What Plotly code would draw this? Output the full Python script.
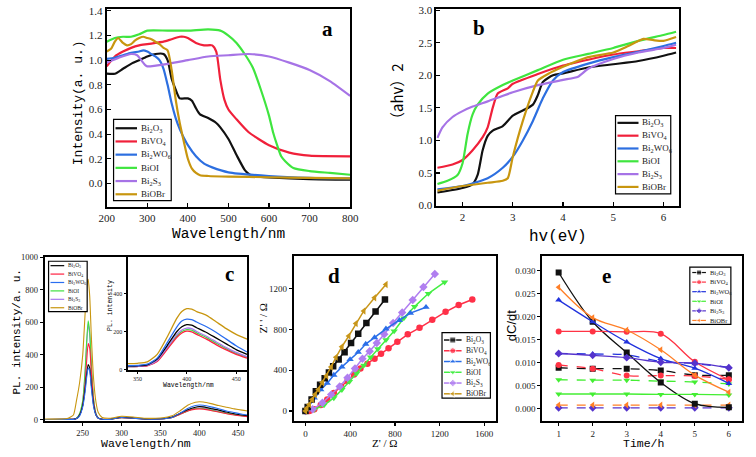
import plotly.graph_objects as go

W, H = 756, 457

names = ["Bi<sub>2</sub>O<sub>3</sub>", "BiVO<sub>4</sub>", "Bi<sub>2</sub>WO<sub>6</sub>",
         "BiOI", "Bi<sub>2</sub>S<sub>3</sub>", "BiOBr"]
col_ab = ["#111111", "#f0203a", "#2d6fe0", "#3fe53f", "#a673e6", "#c8960f"]
col_c = ["#000000", "#ff2040", "#2a6ef0", "#40e040", "#a878ee", "#c8960f"]
col_d = ["#111111", "#ff3048", "#2a6ee8", "#44ee44", "#b07ef0", "#c8961a"]
col_e = ["#111111", "#ff3344", "#2233dd", "#44ee33", "#5533cc", "#ff7f27"]
sym = ["square", "circle", "triangle-up", "triangle-down", "diamond", "triangle-left"]

# ---------------- panel a : UV-vis (wavelength, intensity) ----------------
a_x_Bi2O3 = [200, 220, 240, 260, 280, 300, 320, 340, 350, 360, 370, 380, 400, 410, 420, 430, 450, 470, 480, 500, 520, 540, 550, 560, 580, 600, 700, 800]
a_y_Bi2O3 = [0.89, 0.89, 0.93, 0.97, 1.0, 1.03, 1.05, 1.05, 1.0, 0.85, 0.76, 0.69, 0.69, 0.67, 0.61, 0.56, 0.53, 0.49, 0.455, 0.36, 0.23, 0.11, 0.077, 0.06, 0.052, 0.048, 0.035, 0.03]
a_x_BiVO4 = [200, 220, 240, 260, 280, 300, 320, 340, 360, 380, 390, 400, 420, 440, 460, 470, 480, 490, 500, 520, 550, 600, 650, 700, 800]
a_y_BiVO4 = [0.95, 1.03, 1.07, 1.1, 1.12, 1.13, 1.14, 1.15, 1.17, 1.19, 1.19, 1.18, 1.14, 1.12, 1.12, 1.07, 0.84, 0.68, 0.6, 0.52, 0.415, 0.31, 0.25, 0.225, 0.22]
a_x_Bi2WO6 = [200, 220, 240, 260, 280, 290, 300, 310, 320, 330, 340, 350, 360, 370, 380, 390, 400, 420, 440, 460, 500, 600, 700, 800]
a_y_Bi2WO6 = [1.01, 1.02, 1.04, 1.06, 1.07, 1.08, 1.07, 1.05, 1.03, 1.0, 0.93, 0.8, 0.65, 0.53, 0.44, 0.37, 0.31, 0.22, 0.16, 0.13, 0.09, 0.06, 0.045, 0.04]
a_x_BiOI = [200, 220, 240, 260, 280, 300, 350, 400, 450, 480, 500, 520, 540, 560, 580, 600, 610, 620, 630, 640, 660, 700, 750, 800]
a_y_BiOI = [1.15, 1.18, 1.19, 1.19, 1.21, 1.24, 1.24, 1.24, 1.25, 1.24, 1.2, 1.14, 1.05, 0.94, 0.76, 0.55, 0.415, 0.31, 0.22, 0.18, 0.125, 0.1, 0.085, 0.07]
a_x_Bi2S3 = [200, 230, 260, 275, 285, 295, 300, 350, 400, 450, 500, 550, 600, 650, 700, 750, 800]
a_y_Bi2S3 = [0.98, 1.02, 1.05, 1.04, 1.0, 0.96, 0.95, 0.97, 1.0, 1.03, 1.04, 1.05, 1.03, 0.98, 0.92, 0.83, 0.71]
a_x_BiOBr = [200, 210, 220, 228, 240, 250, 260, 270, 280, 290, 300, 310, 320, 330, 340, 350, 360, 370, 380, 390, 400, 410, 420, 430, 450, 500, 600, 700, 800]
a_y_BiOBr = [1.07, 1.09, 1.15, 1.18, 1.14, 1.12, 1.13, 1.16, 1.18, 1.19, 1.18, 1.17, 1.15, 1.13, 1.1, 1.08, 0.92, 0.68, 0.49, 0.34, 0.2, 0.12, 0.085, 0.066, 0.06, 0.055, 0.05, 0.045, 0.04]

# ---------------- panel b : Tauc (hv, (ahv)^2) ----------------
b_x_Bi2O3 = [1.5, 2.0, 2.2, 2.3, 2.4, 2.5, 2.6, 2.8, 3.0, 3.2, 3.4, 3.5, 3.6, 3.8, 4.0, 4.5, 5.0, 5.5, 6.0, 6.25]
b_y_Bi2O3 = [0.2, 0.27, 0.33, 0.47, 0.85, 1.07, 1.15, 1.22, 1.38, 1.46, 1.55, 1.7, 1.9, 2.0, 2.03, 2.12, 2.17, 2.22, 2.3, 2.35]
b_x_BiVO4 = [1.5, 1.8, 2.0, 2.2, 2.4, 2.5, 2.6, 2.7, 2.9, 3.0, 3.5, 4.0, 4.5, 5.0, 5.5, 6.0, 6.25]
b_y_BiVO4 = [0.58, 0.63, 0.7, 0.85, 1.05, 1.2, 1.5, 1.72, 1.8, 1.87, 2.02, 2.15, 2.24, 2.32, 2.37, 2.42, 2.42]
b_x_Bi2WO6 = [1.5, 2.0, 2.5, 2.8, 3.0, 3.2, 3.4, 3.6, 3.8, 4.0, 4.5, 5.0, 5.5, 6.0, 6.25]
b_y_Bi2WO6 = [0.25, 0.3, 0.42, 0.58, 0.75, 1.0, 1.3, 1.65, 1.92, 2.05, 2.18, 2.28, 2.36, 2.45, 2.5]
b_x_BiOI = [1.5, 1.7, 1.9, 2.0, 2.1, 2.2, 2.3, 2.5, 2.8, 3.0, 3.5, 4.0, 4.5, 5.0, 5.5, 6.0, 6.25]
b_y_BiOI = [0.33, 0.38, 0.47, 0.65, 1.1, 1.4, 1.55, 1.72, 1.85, 1.92, 2.08, 2.24, 2.33, 2.42, 2.53, 2.62, 2.67]
b_x_Bi2S3 = [1.5, 1.6, 1.8, 2.0, 2.2, 2.5, 3.0, 3.5, 4.0, 4.3, 4.5, 5.0, 5.5, 6.0, 6.25]
b_y_Bi2S3 = [1.04, 1.2, 1.36, 1.45, 1.52, 1.6, 1.74, 1.85, 1.93, 1.98, 2.1, 2.25, 2.35, 2.42, 2.47]
b_x_BiOBr = [1.5, 2.0, 2.5, 2.8, 2.9, 3.0, 3.2, 3.4, 3.5, 3.7, 4.0, 4.5, 5.0, 5.3, 5.6, 5.8, 6.0, 6.25]
b_y_BiOBr = [0.23, 0.3, 0.35, 0.38, 0.42, 0.75, 1.3, 1.75, 1.92, 2.02, 2.13, 2.28, 2.35, 2.45, 2.56, 2.54, 2.53, 2.59]

# ---------------- panel c : PL spectra ----------------
c_wl = [201, 230, 238, 242, 246, 250, 253, 255, 257, 259, 261, 264, 267, 270, 275, 285, 300, 315, 330, 350, 365, 375, 385, 395, 400, 405, 415, 425, 435, 445, 455, 462]
c_Bi2O3 = [2, 3, 4, 8, 30, 90, 190, 280, 340, 320, 220, 90, 30, 10, 4, 4, 16, 12, 6, 7, 18, 40, 62, 78, 82, 80, 70, 60, 48, 38, 30, 26]
c_BiVO4 = [2, 3, 4, 8, 30, 90, 220, 360, 470, 440, 300, 110, 35, 10, 4, 4, 14, 10, 5, 6, 15, 34, 55, 66, 68, 66, 58, 48, 38, 30, 24, 20]
c_Bi2WO6 = [2, 3, 3, 8, 25, 80, 170, 260, 320, 300, 200, 80, 30, 10, 4, 3, 15, 10, 5, 6, 15, 40, 70, 88, 92, 90, 80, 68, 55, 45, 35, 30]
c_BiOI = [2, 3, 4, 10, 40, 120, 300, 480, 610, 540, 350, 130, 40, 12, 4, 4, 14, 10, 5, 6, 15, 34, 55, 70, 72, 70, 60, 50, 40, 32, 25, 21]
c_Bi2S3 = [2, 3, 4, 10, 35, 110, 280, 460, 590, 520, 330, 120, 38, 12, 4, 4, 14, 10, 5, 6, 15, 35, 57, 72, 75, 73, 62, 52, 42, 33, 26, 22]
c_BiOBr = [5, 8, 30, 120, 230, 400, 650, 820, 865, 760, 520, 250, 110, 45, 15, 10, 22, 18, 10, 12, 25, 55, 90, 108, 112, 110, 100, 88, 78, 68, 60, 55]

ci_wl = [340, 350, 360, 370, 380, 390, 395, 400, 405, 410, 420, 430, 440, 450, 461]
ci_Bi2O3 = [18, 20, 25, 55, 125, 200, 225, 236, 233, 220, 195, 165, 135, 105, 80]
ci_BiVO4 = [15, 16, 20, 42, 105, 170, 192, 202, 198, 185, 160, 130, 103, 80, 60]
ci_Bi2WO6 = [20, 22, 28, 60, 140, 225, 255, 265, 262, 250, 225, 195, 160, 125, 92]
ci_BiOI = [15, 17, 22, 45, 110, 178, 200, 210, 207, 193, 168, 138, 110, 85, 65]
ci_Bi2S3 = [15, 17, 22, 48, 115, 185, 208, 218, 215, 200, 175, 145, 115, 90, 68]
ci_BiOBr = [31, 33, 40, 80, 170, 270, 305, 320, 318, 305, 285, 250, 215, 185, 160]

# ---------------- panel d : Nyquist (Z', Z'') ----------------
d_re_Bi2O3 = [0, 20, 55, 93, 131, 172, 210, 248, 297, 350, 408, 472, 545, 627, 711]
d_im_Bi2O3 = [0, 38, 112, 192, 256, 320, 378, 438, 506, 576, 666, 758, 864, 976, 1094]
d_re_BiVO4 = [35, 79, 137, 195, 254, 318, 376, 434, 492, 554, 618, 676, 743, 822, 915, 1020, 1134, 1253, 1370, 1492]
d_im_BiVO4 = [0, 16, 58, 112, 176, 240, 294, 358, 416, 464, 512, 560, 614, 678, 752, 816, 896, 973, 1040, 1094]
d_re_Bi2WO6 = [0, 20, 79, 137, 195, 254, 326, 399, 472, 539, 618, 720, 840, 938, 1078]
d_im_Bi2WO6 = [0, 32, 128, 208, 272, 352, 432, 506, 576, 656, 720, 806, 890, 960, 1018]
d_re_BiOI = [0, 79, 166, 254, 326, 393, 458, 522, 583, 647, 720, 793, 880, 976, 1099, 1244]
d_im_BiOI = [0, 13, 58, 128, 208, 288, 368, 448, 528, 608, 698, 784, 912, 1024, 1152, 1264]
d_re_Bi2S3 = [0, 64, 152, 230, 306, 376, 443, 510, 574, 638, 705, 784, 865, 959, 1055, 1157]
d_im_Bi2S3 = [0, 16, 80, 160, 240, 326, 416, 512, 586, 666, 752, 864, 966, 1088, 1216, 1344]
d_re_BiOBr = [0, 12, 35, 61, 87, 117, 152, 189, 230, 274, 326, 388, 452, 522, 618, 720]
d_im_BiOBr = [0, 26, 64, 112, 160, 211, 278, 346, 432, 528, 630, 736, 858, 982, 1110, 1242]

# ---------------- panel e : dC/dt vs time ----------------
e_t = [1, 2, 3, 4, 5, 6]
e_solid = {
    "Bi2O3": [0.0296, 0.0189, 0.0122, 0.0057, 0.0011, 0.0003],
    "BiVO4": [0.0168, 0.0168, 0.0167, 0.0163, 0.0102, 0.0063],
    "Bi2WO6": [0.0236, 0.0189, 0.0145, 0.0109, 0.0088, 0.0055],
    "BiOI": [0.0032, 0.0032, 0.0032, 0.0031, 0.0031, 0.0030],
    "Bi2S3": [0.0120, 0.0116, 0.0111, 0.0101, 0.0099, 0.0089],
    "BiOBr": [0.0264, 0.0198, 0.0171, 0.0128, 0.0073, 0.0036],
}
e_dash = {
    "Bi2O3": [0.0089, 0.0087, 0.0087, 0.0083, 0.0073, 0.0073],
    "BiVO4": [0.0095, 0.0087, 0.0072, 0.0072, 0.0071, 0.0064],
    "Bi2WO6": [0.0120, 0.0119, 0.0117, 0.0103, 0.0098, 0.0090],
    "BiOI": [0.0063, 0.0062, 0.0062, 0.0060, 0.0058, 0.0054],
    "Bi2S3": [0.0002, 0.0002, 0.0002, 0.0002, 0.0002, 0.0002],
    "BiOBr": [0.0008, 0.0008, 0.0008, 0.0008, 0.0008, 0.0008],
}
keys = ["Bi2O3", "BiVO4", "Bi2WO6", "BiOI", "Bi2S3", "BiOBr"]

# ======================================================================
def xd(l, r):
    return [l / W, r / W]


def yd(t, b):
    return [1 - b / H, 1 - t / H]


fig = go.Figure()

a_data = [(a_x_Bi2O3, a_y_Bi2O3), (a_x_BiVO4, a_y_BiVO4), (a_x_Bi2WO6, a_y_Bi2WO6),
          (a_x_BiOI, a_y_BiOI), (a_x_Bi2S3, a_y_Bi2S3), (a_x_BiOBr, a_y_BiOBr)]
for i, (xx, yy) in enumerate(a_data):
    fig.add_trace(go.Scatter(x=xx, y=yy, mode="lines", line=dict(color=col_ab[i], width=2.2, shape="spline", smoothing=0.6),
                             xaxis="x", yaxis="y", showlegend=False, hoverinfo="skip"))

b_data = [(b_x_Bi2O3, b_y_Bi2O3), (b_x_BiVO4, b_y_BiVO4), (b_x_Bi2WO6, b_y_Bi2WO6),
          (b_x_BiOI, b_y_BiOI), (b_x_Bi2S3, b_y_Bi2S3), (b_x_BiOBr, b_y_BiOBr)]
for i, (xx, yy) in enumerate(b_data):
    fig.add_trace(go.Scatter(x=xx, y=yy, mode="lines", line=dict(color=col_ab[i], width=2.2, shape="spline", smoothing=0.6),
                             xaxis="x2", yaxis="y2", showlegend=False, hoverinfo="skip"))

c_main = [c_Bi2O3, c_BiVO4, c_Bi2WO6, c_BiOI, c_Bi2S3, c_BiOBr]
for i in [4, 3, 1, 0, 2, 5]:
    fig.add_trace(go.Scatter(x=c_wl, y=c_main[i], mode="lines", line=dict(color=col_c[i], width=1.1, shape="spline", smoothing=0.5),
                             xaxis="x3", yaxis="y3", showlegend=False, hoverinfo="skip"))
c_ins = [ci_Bi2O3, ci_BiVO4, ci_Bi2WO6, ci_BiOI, ci_Bi2S3, ci_BiOBr]
for i in [3, 1, 4, 0, 2, 5]:
    fig.add_trace(go.Scatter(x=ci_wl, y=c_ins[i], mode="lines", line=dict(color=col_c[i], width=1.3, shape="spline", smoothing=0.6),
                             xaxis="x4", yaxis="y4", showlegend=False, hoverinfo="skip"))

d_data = [(d_re_Bi2O3, d_im_Bi2O3), (d_re_BiVO4, d_im_BiVO4), (d_re_Bi2WO6, d_im_Bi2WO6),
          (d_re_BiOI, d_im_BiOI), (d_re_Bi2S3, d_im_Bi2S3), (d_re_BiOBr, d_im_BiOBr)]
for i in [1, 3, 4, 2, 0, 5]:
    xx, yy = d_data[i]
    fig.add_trace(go.Scatter(x=xx, y=yy, mode="lines+markers", line=dict(color=col_d[i], width=1.5),
                             marker=dict(symbol=sym[i], size=6.5, color=col_d[i]),
                             xaxis="x5", yaxis="y5", showlegend=False, hoverinfo="skip"))

for i, k in enumerate(keys):
    fig.add_trace(go.Scatter(x=e_t, y=e_dash[k], mode="lines+markers",
                             line=dict(color=col_e[i], width=1.3, dash="dash", shape="spline"),
                             marker=dict(symbol=sym[i], size=6, color=col_e[i]),
                             xaxis="x6", yaxis="y6", showlegend=False, hoverinfo="skip"))
for i, k in enumerate(keys):
    fig.add_trace(go.Scatter(x=e_t, y=e_solid[k], mode="lines+markers",
                             line=dict(color=col_e[i], width=1.3, shape="spline"),
                             marker=dict(symbol=sym[i], size=6, color=col_e[i]),
                             xaxis="x6", yaxis="y6", showlegend=False, hoverinfo="skip"))

# ---------------- legends (overlay pixel axis) ----------------
ann = []
shapes = []


def legend_box(x0, y0, x1, y1):
    shapes.append(dict(type="rect", xref="x7", yref="y7", x0=x0, y0=y0, x1=x1, y1=y1,
                       line=dict(color="black", width=1.2), fillcolor="white", layer="below"))


def add_text(x, y, text, size, family="Liberation Serif", xanchor="left", angle=0, color="#222", bold=False):
    ann.append(dict(x=x, y=y, xref="x7", yref="y7", text=("<b>%s</b>" % text) if bold else text,
                    showarrow=False, xanchor=xanchor, yanchor="middle", textangle=angle,
                    font=dict(family=family, size=size, color=color)))


# a legend
legend_box(108, 117, 167, 200)
for i in range(6):
    y = 126 + i * 13.5
    fig.add_trace(go.Scatter(x=[110, 132], y=[y, y], mode="lines", line=dict(color=col_ab[i], width=2.2),
                             xaxis="x7", yaxis="y7", showlegend=False, hoverinfo="skip"))
    add_text(134, y, names[i], 9)

# b legend
legend_box(621.5, 113, 678, 193)
for i in range(6):
    y = 120.5 + i * 13.1
    fig.add_trace(go.Scatter(x=[623.5, 645], y=[y, y], mode="lines", line=dict(color=col_ab[i], width=2.2),
                             xaxis="x7", yaxis="y7", showlegend=False, hoverinfo="skip"))
    add_text(646.5, y, names[i], 9)

# c legend
legend_box(41.5, 262, 81, 313.5)
for i in range(6):
    y = 266.5 + i * 8.6
    fig.add_trace(go.Scatter(x=[43.5, 57.5], y=[y, y], mode="lines", line=dict(color=col_c[i], width=1.2),
                             xaxis="x7", yaxis="y7", showlegend=False, hoverinfo="skip"))
    add_text(59, y, names[i], 5.5)

# d legend
legend_box(444, 335, 493.5, 402)
for i in range(6):
    y = 342.5 + i * 11
    fig.add_trace(go.Scatter(x=[446, 455, 464], y=[y, y, y], mode="lines+markers", line=dict(color=col_d[i], width=1.5),
                             marker=dict(symbol=sym[i], size=[0, 6, 0], color=col_d[i]),
                             xaxis="x7", yaxis="y7", showlegend=False, hoverinfo="skip"))
    add_text(466, y, names[i], 7.5)

# e legend
legend_box(697.5, 268, 739.5, 326.5)
for i in range(6):
    y = 273.5 + i * 9.8
    fig.add_trace(go.Scatter(x=[700, 707, 714], y=[y, y, y], mode="lines+markers", line=dict(color=col_e[i], width=1.2),
                             marker=dict(symbol=sym[i], size=[0, 5, 0], color=col_e[i]),
                             xaxis="x7", yaxis="y7", showlegend=False, hoverinfo="skip"))
    add_text(716.5, y, names[i], 6.5)

# panel letters
for (x, y, t) in [(327, 25, "a"), (482, 23, "b"), (227, 275, "c"), (333, 277, "d"), (612, 277, "e")]:
    add_text(x, y, t, 21, family="Liberation Serif", xanchor="center", color="black", bold=True)

# axis titles
MONO = "Liberation Mono"
add_text(226, 234, "Wavelength/nm", 14.5, family=MONO, xanchor="center", color="black")
add_text(72, 100, "Intensity(a. u.)", 13, family=MONO, xanchor="center", angle=-90, color="black")
add_text(563, 237, "hv(eV)", 16, family=MONO, xanchor="center", color="black")
add_text(398, 92, "（ahv）2", 15, family="Noto Sans CJK SC", xanchor="center", angle=-90, color="black")
add_text(141, 448, "Wavelength/nm", 11.5, family=MONO, xanchor="center", color="black")
add_text(9, 334, "PL. intensity/a. u.", 11, family=MONO, xanchor="center", angle=-90, color="black")
add_text(185, 389.5, "Wavelength/nm", 6.5, family=MONO, xanchor="center", color="black")
add_text(105, 307, "PL. intensity", 6.5, family=MONO, xanchor="center", angle=-90, color="black")
add_text(385, 448, "Z' / Ω", 11, family="Liberation Serif", xanchor="center", color="black")
add_text(261, 320, "Z' ' / Ω", 11, family="Liberation Serif", xanchor="center", angle=-90, color="black")
add_text(650, 448, "Time/h", 11.5, family=MONO, xanchor="center", color="black")
add_text(515, 328, "dC/dt", 13, family="Liberation Sans", xanchor="center", angle=-90, color="black")

TF = "Liberation Serif"


def ax(domain, rng, tickvals, size, ticks="outside", fmt=None, anchor=None, ticklen=3):
    d = dict(domain=domain, range=rng, tickvals=tickvals, showline=True, linecolor="black", linewidth=2,
             mirror=True, ticks=ticks, ticklen=ticklen, tickwidth=1.2, tickcolor="black", showgrid=False, zeroline=False,
             tickfont=dict(family=TF, size=size, color="#222"), anchor=anchor, fixedrange=True)
    if fmt:
        d["tickformat"] = fmt
    return d


fig.update_layout(
    width=W, height=H, margin=dict(l=0, r=0, t=0, b=0),
    paper_bgcolor="white", plot_bgcolor="rgba(0,0,0,0)",
    xaxis=ax(xd(101, 350), [200, 800], [200, 300, 400, 500, 600, 700, 800], 11, "inside", anchor="y", ticklen=4),
    yaxis=ax(yd(4, 206.7), [-0.193, 1.416], [0, 0.2, 0.4, 0.6, 0.8, 1.0, 1.2, 1.4], 11, "inside", ".1f", anchor="x", ticklen=4),
    xaxis2=ax(xd(438.3, 686), [1.48, 6.3], [2, 3, 4, 5, 6], 11, "inside", anchor="y2", ticklen=4),
    yaxis2=ax(yd(4, 205.7), [-0.01, 3.02], [0, 0.5, 1.0, 1.5, 2.0, 2.5, 3.0], 11, "inside", ".1f", anchor="x2", ticklen=4),
    xaxis3=ax(xd(37.5, 245), [201, 462], [250, 300, 350, 400, 450], 8.5, anchor="y3"),
    yaxis3=ax(yd(258, 425), [-5, 1000], [0, 200, 400, 600, 800, 1000], 8.5, anchor="x3"),
    xaxis4=ax(xd(122.3, 245), [340, 461.5], [350, 400, 450], 6, anchor="y4", ticklen=2),
    yaxis4=ax(yd(258, 372.7), [0, 590], [0, 200, 400], 6, anchor="x4", ticklen=2),
    xaxis5=ax(xd(292.5, 499), [-103, 1702], [0, 400, 800, 1200, 1600], 9, anchor="y5"),
    yaxis5=ax(yd(257, 425), [-96, 1517], [0, 400, 800, 1200], 9, anchor="x5"),
    xaxis6=ax(xd(546.7, 751), [0.523, 6.39], [1, 2, 3, 4, 5, 6], 9, anchor="y6"),
    yaxis6=ax(yd(257, 425), [-0.0026, 0.0331], [0, 0.005, 0.01, 0.015, 0.02, 0.025, 0.03], 9, fmt=".3f", anchor="x6"),
    xaxis7=dict(domain=[0, 1], range=[0, W], visible=False, anchor="y7", fixedrange=True),
    yaxis7=dict(domain=[0, 1], range=[H, 0], visible=False, anchor="x7", fixedrange=True),
    annotations=ann, shapes=shapes,
)

fig.write_html("out.html", config={"displayModeBar": False, "staticPlot": True},
               post_script="document.body.style.margin='0px';document.body.style.padding='0px';document.body.style.overflow='hidden';")
